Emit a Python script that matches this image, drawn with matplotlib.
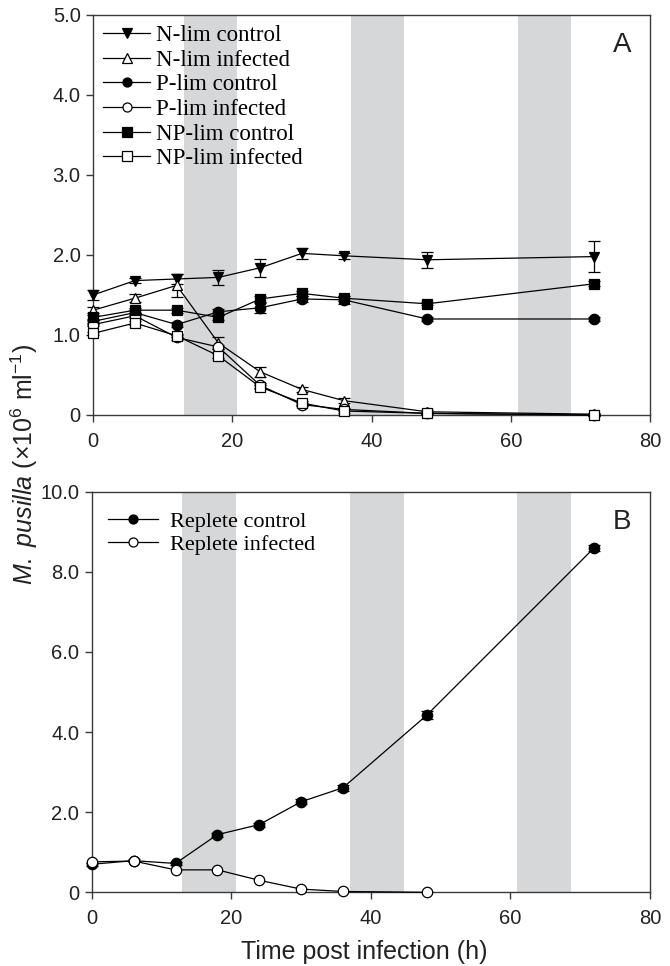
import matplotlib
matplotlib.use("Agg")
import matplotlib.pyplot as plt
from matplotlib.lines import Line2D

# ---------------- data ----------------
time = [0, 6, 12, 18, 24, 30, 36, 48, 72]

n_ctrl = [1.50, 1.68, 1.70, 1.72, 1.84, 2.02, 1.99, 1.94, 1.98]
n_ctrl_err = [0.06, 0.03, 0.06, 0.09, 0.11, 0.07, 0.04, 0.10, 0.19]
n_inf = [1.31, 1.46, 1.62, 0.90, 0.54, 0.32, 0.18, 0.04, 0.01]
n_inf_err = [0.04, 0.05, 0.14, 0.07, 0.06, 0.03, 0.03, 0.02, 0.01]
p_ctrl = [1.17, 1.28, 1.13, 1.29, 1.34, 1.45, 1.44, 1.20, 1.20]
p_ctrl_err = [0.03, 0.03, 0.03, 0.04, 0.06, 0.04, 0.05, 0.02, 0.03]
p_inf = [1.13, 1.24, 0.97, 0.85, 0.37, 0.13, 0.07, 0.02, 0.00]
p_inf_err = [0.02, 0.03, 0.03, 0.03, 0.03, 0.02, 0.02, 0.01, 0.01]
np_ctrl = [1.22, 1.31, 1.31, 1.22, 1.45, 1.52, 1.46, 1.39, 1.64]
np_ctrl_err = [0.03, 0.03, 0.03, 0.03, 0.04, 0.03, 0.03, 0.02, 0.03]
np_inf = [1.02, 1.15, 0.99, 0.74, 0.35, 0.15, 0.05, 0.02, 0.00]
np_inf_err = [0.02, 0.03, 0.02, 0.03, 0.03, 0.02, 0.02, 0.01, 0.01]

time_b = [0, 6, 12, 18, 24, 30, 36, 48, 72]
rep_ctrl = [0.70, 0.79, 0.72, 1.44, 1.69, 2.26, 2.61, 4.42, 8.60]
rep_ctrl_err = [0.04, 0.04, 0.04, 0.05, 0.05, 0.06, 0.08, 0.10, 0.08]
time_b_inf = [0, 6, 12, 18, 24, 30, 36, 48]
rep_inf = [0.76, 0.78, 0.56, 0.56, 0.30, 0.08, 0.02, 0.00]

dark_periods = [(13.0, 20.7), (37.0, 44.7), (61.0, 68.7)]

labels_a = ["N-lim control", "N-lim infected", "P-lim control",
            "P-lim infected", "NP-lim control", "NP-lim infected"]
labels_b = ["Replete control", "Replete infected"]

# ---------------- style ----------------
SANS = "Liberation Sans"
SERIF = "Liberation Serif"
plt.rcParams["font.family"] = [SANS, "DejaVu Sans"]
plt.rcParams["mathtext.fontset"] = "custom"
plt.rcParams["mathtext.rm"] = SANS
plt.rcParams["mathtext.it"] = SANS + ":italic"

SPINE = "#3a3a3a"
BAND = "#d6d7d9"
TXT = "#222222"
TICKFS = 14.5

fig = plt.figure(figsize=(6.7, 9.66), dpi=100)
axA = fig.add_axes([0.139, 0.5704, 0.831, 0.4141])
axB = fig.add_axes([0.137, 0.0763, 0.833, 0.4146])

def style_axis(ax, ymax, yticks, ylabels):
    for (a, b) in dark_periods:
        ax.axvspan(a, b, color=BAND, lw=0, zorder=0)
    ax.set_xlim(0, 80)
    ax.set_ylim(0, ymax)
    ax.set_xticks([0, 20, 40, 60, 80])
    ax.set_xticklabels(["0", "20", "40", "60", "80"])
    ax.set_yticks(yticks)
    ax.set_yticklabels(ylabels)
    for s in ax.spines.values():
        s.set_color(SPINE)
        s.set_linewidth(1.0)
    ax.tick_params(direction="out", length=5, width=1.0, color=SPINE,
                   labelsize=TICKFS, labelcolor=TXT)
    ax.tick_params(axis="x", pad=7)
    ax.tick_params(axis="y", pad=4)
    ax.tick_params(top=False, right=False)

mk = 7.5
common = dict(color="black", lw=0.9, ecolor="black", elinewidth=0.9,
              capsize=4.5, capthick=0.9, zorder=3, clip_on=False)

series_a = [
    (n_ctrl, n_ctrl_err, "v", "black"),
    (n_inf, n_inf_err, "^", "white"),
    (p_ctrl, p_ctrl_err, "o", "black"),
    (p_inf, p_inf_err, "o", "white"),
    (np_ctrl, np_ctrl_err, "s", "black"),
    (np_inf, np_inf_err, "s", "white"),
]

style_axis(axA, 5.0, [0, 1, 2, 3, 4, 5], ["0", "1.0", "2.0", "3.0", "4.0", "5.0"])
for vals, err, m, fc in series_a:
    axA.errorbar(time, vals, yerr=err, fmt="-", marker=m, ms=mk,
                 mfc=fc, mec="black", mew=0.9, **common)

handles_a = [Line2D([], [], color="black", lw=0.9, marker=m, ms=mk - 1,
                    mfc=fc, mec="black", mew=0.9)
             for (_, _, m, fc) in series_a]
axA.legend(handles_a, labels_a, loc="upper left", bbox_to_anchor=(0.006, 0.9925),
           frameon=False, prop={"family": SERIF, "size": 16.5},
           handlelength=2.05, handletextpad=0.26, labelspacing=0.16,
           borderaxespad=0.2, borderpad=0.1)
axA.text(0.951, 0.925, "A", transform=axA.transAxes, fontsize=20,
         ha="center", va="center", color=TXT)

style_axis(axB, 10.0, [0, 2, 4, 6, 8, 10], ["0", "2.0", "4.0", "6.0", "8.0", "10.0"])
axB.errorbar(time_b, rep_ctrl, yerr=rep_ctrl_err, fmt="-", marker="o", ms=mk,
             mfc="black", mec="black", mew=0.9, **common)
axB.plot(time_b_inf, rep_inf, "-", marker="o", ms=mk, color="black", lw=0.9,
         mfc="white", mec="black", mew=0.9, zorder=4, clip_on=False)

handles_b = [Line2D([], [], color="black", lw=0.9, marker="o", ms=mk - 1,
                    mfc=fc, mec="black", mew=0.9) for fc in ("black", "white")]
axB.legend(handles_b, labels_b, loc="upper left", bbox_to_anchor=(0.017, 0.9675),
           frameon=False, prop={"family": SERIF, "size": 16},
           handlelength=2.25, handletextpad=0.54, labelspacing=0.12,
           borderaxespad=0.2, borderpad=0.1)
axB.text(0.95, 0.925, "B", transform=axB.transAxes, fontsize=20,
         ha="center", va="center", color=TXT)

fig.text(0.037, 0.519, r"$\it{M.\ pusilla}$ (×10$^{6}$ ml$^{-1}$)",
         rotation=90, ha="center", va="center", fontsize=18, color=TXT)
fig.text(0.543, 0.0145, "Time post infection (h)", ha="center", va="center",
         fontsize=18, color=TXT)

fig.savefig("out.png", dpi=100)
